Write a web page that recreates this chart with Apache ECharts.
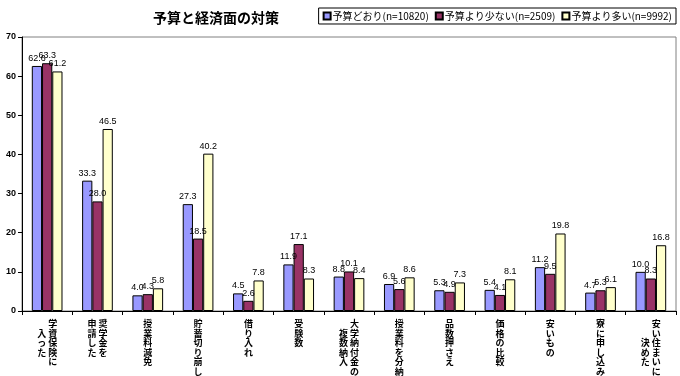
<!DOCTYPE html>
<html>
<head>
<meta charset="utf-8">
<script src="https://cdn.jsdelivr.net/npm/echarts@6/dist/echarts.min.js"></script>
<style>
  html, body { margin: 0; padding: 0; background: #fff; }
  #chart { width: 680px; height: 376px; }
</style>
</head>
<body>
<div id="chart"></div>
<script>
// category labels: [first (right) column, second (left) column, offset of second column]
const categories = [
    ['学資保険に', '入った', 1],
    ['奨学金を', '申請した', 0],
    ['授業料減免', '', 0],
    ['貯蓄切り崩し', '', 0],
    ['借り入れ', '', 0],
    ['受験数', '', 0],
    ['大学納付金の', '複数納入', 1],
    ['授業料を分納', '', 0],
    ['品数押さえ', '', 0],
    ['価格の比較', '', 0],
    ['安いもの', '', 0],
    ['寮に申し込み', '', 0],
    ['安い住まいに', '決めた', 2]
];
const seriesNames = ['予算どおり(n=10820)', '予算より少ない(n=2509)', '予算より多い(n=9992)'];
const asPlanned = [62.6, 33.3, 4.0, 27.3, 4.5, 11.9, 8.8, 6.9, 5.3, 5.4, 11.2, 4.7, 10.0];
const lessThanPlanned = [63.3, 28.0, 4.3, 18.5, 2.6, 17.1, 10.1, 5.6, 4.9, 4.1, 9.5, 5.3, 8.3];
const moreThanPlanned = [61.2, 46.5, 5.8, 40.2, 7.8, 8.3, 8.4, 8.6, 7.3, 8.1, 19.8, 6.1, 16.8];
const colors = ['#9999ff', '#993366', '#ffffcc'];

// build vertical text, columns right-to-left
function verticalLabel(item) {
    const right = Array.from(item[0]);
    const left = Array.from(item[1]);
    const off = item[2];
    const rows = Math.max(right.length, left.length + off);
    const lines = [];
    for (let i = 0; i < rows; i++) {
        const r = right[i] || '　';
        if (left.length) {
            const l = left[i - off] || '　';
            lines.push(l + ' ' + r);
        } else {
            lines.push(r);
        }
    }
    return lines.join('\n');
}
const categoryLabels = categories.map(verticalLabel);
</script>
<script>
document.addEventListener('DOMContentLoaded', function () {
    const chart = echarts.init(document.getElementById('chart'));
    const fontFamily = '"Noto Sans CJK JP", "Liberation Sans", sans-serif';

    function makeSeries(name, data, color) {
        return {
            name: name,
            type: 'bar',
            data: data,
            barGap: '0%',
            barCategoryGap: '39%',
            itemStyle: {
                color: color,
                borderColor: '#000',
                borderWidth: 1
            },
            label: {
                show: true,
                position: 'top',
                distance: 3,
                color: '#000',
                fontSize: 9,
                fontFamily: '"Liberation Sans", Arial, sans-serif',
                formatter: p => p.value.toFixed(1)
            }
        };
    }

    const option = {
        animation: false,
        backgroundColor: '#fff',
        title: {
            text: '予算と経済面の対策',
            left: 148,
            top: 6,
            textStyle: {
                fontSize: 14,
                fontWeight: 'bold',
                color: '#000',
                fontFamily: fontFamily
            }
        },
        legend: {
            right: 4,
            top: 8,
            itemWidth: 7,
            itemHeight: 7,
            itemGap: 6,
            padding: [3, 4],
            borderColor: '#000',
            borderWidth: 1,
            icon: 'rect',
            textStyle: {
                fontSize: 10,
                color: '#000',
                fontFamily: fontFamily,
                padding: [0, 0, 0, -3]
            },
            data: seriesNames
        },
        grid: {
            left: 22,
            right: 4,
            top: 37,
            bottom: 65,
            show: true,
            borderColor: '#808080',
            borderWidth: 1
        },
        xAxis: {
            type: 'category',
            data: categoryLabels,
            axisLine: { lineStyle: { color: '#000' } },
            axisTick: { show: true, length: 4, lineStyle: { color: '#000' } },
            axisLabel: {
                interval: 0,
                fontSize: 9,
                lineHeight: 9.5,
                fontWeight: 'bold',
                color: '#000',
                margin: 8,
                verticalAlign: 'top',
                fontFamily: fontFamily
            }
        },
        yAxis: {
            type: 'value',
            min: 0,
            max: 70,
            interval: 10,
            splitLine: { show: false },
            axisLine: { show: true, lineStyle: { color: '#000' } },
            axisTick: { show: true, length: 4, lineStyle: { color: '#000' } },
            axisLabel: {
                fontSize: 9,
                fontWeight: 'bold',
                color: '#000',
                margin: 6,
                fontFamily: '"Liberation Sans", Arial, sans-serif'
            }
        },
        series: [
            makeSeries(seriesNames[0], asPlanned, colors[0]),
            makeSeries(seriesNames[1], lessThanPlanned, colors[1]),
            makeSeries(seriesNames[2], moreThanPlanned, colors[2])
        ]
    };
    chart.setOption(option);

    window.addEventListener('resize', function () {
        chart.resize();
    });
});
</script>
</body>
</html>
